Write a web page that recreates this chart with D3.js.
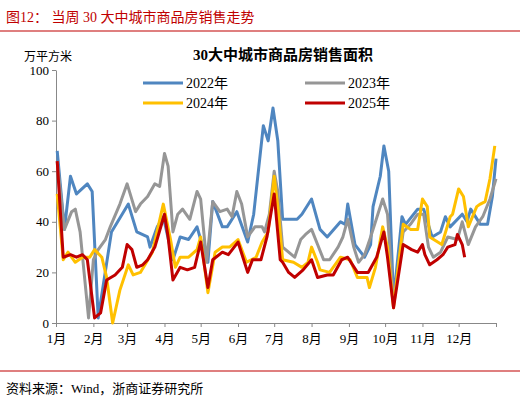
<!DOCTYPE html>
<html><head><meta charset="utf-8">
<script src="https://cdn.jsdelivr.net/npm/d3@7"></script>
<style>body{margin:0;background:#fff}svg{font-family:"Times New Roman","Liberation Serif","Noto Sans CJK SC",serif}</style>
</head><body><svg id="c" width="520" height="403"></svg>
<script>
// [day of year, 万平方米]
const s2022 = [[1,68],[7,37],[12,58],[17,51],[26,55],[30,52],[35,2],[46,36],[60,47],[67,36],[76,34],[78,30],[84,38],[89,42],[97,25],[103,34],[110,33],[117,38],[120,33],[126,24],[130,48],[138,38],[142,38],[150,44],[159,32],[164,43],[172,78],[176,72],[180,85],[184,72],[188,41],[200,41],[204,43],[212,49],[219,37],[225,34],[236,40],[240,39],[242,47],[248,31],[256,26],[261,31],[263,46],[269,58],[272,70],[276,60],[280,9],[287,42],[290,39],[300,45],[305,45],[312,34],[319,36],[323,42],[327,38],[337,43],[341,40],[344,45],[352,39],[358,39],[362,50],[365,65]];
const s2023 = [[1,64],[7,37],[13,44],[16,45],[20,36],[27,2],[31,25],[35,29],[41,33],[45,38],[53,47],[59,55],[66,44],[70,47],[76,50],[82,55],[86,54],[90,67],[93,62],[97,36],[101,43],[105,45],[111,41],[117,52],[120,49],[125,24],[130,48],[136,44],[142,45],[146,42],[150,52],[154,47],[159,34],[165,38],[171,38],[173,36],[177,43],[181,60],[184,52],[188,30],[198,26],[203,33],[207,35],[212,37],[217,31],[222,25],[227,25],[234,30],[238,34],[242,41],[247,30],[251,24],[256,27],[261,34],[271,49],[275,43],[280,8],[288,36],[294,39],[300,43],[305,43],[309,30],[313,26],[319,28],[325,34],[333,33],[337,40],[342,31],[348,38],[354,42],[360,49],[365,57]];
const s2024 = [[1,51],[6,25],[10,28],[16,24],[22,26],[28,26],[32,29],[38,26],[42,18],[47,0],[53,13],[60,23],[64,19],[70,20],[80,28],[89,47],[95,33],[99,22],[103,26],[110,26],[117,29],[120,34],[126,12],[132,28],[138,30],[144,30],[151,33],[158,24],[166,26],[171,32],[176,36],[181,58],[184,46],[188,25],[197,24],[204,22],[209,24],[212,30],[217,24],[219,21],[227,20],[236,26],[244,25],[250,18],[258,18],[260,14],[265,22],[271,38],[275,30],[280,6],[288,39],[294,37],[300,37],[304,49],[308,46],[310,34],[320,31],[327,42],[329,43],[334,53],[338,50],[342,38],[349,46],[352,47],[356,48],[360,57],[364,70]];
const s2025 = [[1,64],[6,26],[12,27],[17,26],[22,27],[26,25],[32,2],[37,4],[42,17],[49,19],[55,22],[59,31],[63,29],[67,22],[72,23],[76,25],[82,30],[90,43],[93,34],[97,17],[103,22],[109,21],[115,22],[120,32],[126,14],[130,25],[138,28],[143,27],[151,32],[159,20],[163,25],[170,25],[175,34],[181,51],[186,25],[188,24],[193,20],[198,18],[205,21],[212,25],[217,18],[225,19],[230,19],[237,25],[242,26],[250,20],[259,20],[266,26],[272,36],[275,26],[280,6],[288,31],[295,29],[300,28],[304,31],[306,27],[310,23],[316,25],[321,27],[325,30],[331,31],[333,35],[337,31],[339,26]];
const seriesNames = ["2022年","2023年","2024年","2025年"];
const seriesColors = ["#4f86c0","#969696","#ffc000","#c00000"];
const monthLabels = ["1月","2月","3月","4月","5月","6月","7月","8月","9月","10月","11月","12月"];
const monthStarts = [0,31,59,90,120,151,181,212,243,273,304,334];
const yTicks = [0,20,40,60,80,100];

const svg = d3.select("#c");
const red = "#c00000";
svg.append("text").attr("x",6).attr("y",22).attr("fill",red).attr("font-size",14)
  .text("图12：  当周 30 大中城市商品房销售走势");
svg.append("line").attr("x1",0).attr("x2",520).attr("y1",31).attr("y2",31).attr("stroke",red).attr("stroke-width",1.2);
svg.append("line").attr("x1",0).attr("x2",520).attr("y1",371).attr("y2",371).attr("stroke",red).attr("stroke-width",1.2);
svg.append("text").attr("x",6).attr("y",393).attr("font-size",13).text("资料来源：Wind，浙商证券研究所");

const x = d3.scaleLinear().domain([0,365]).range([56,496]);
const y = d3.scaleLinear().domain([0,100]).range([323,70]);

svg.append("text").attr("x",283).attr("y",60).attr("text-anchor","middle").attr("font-size",15).attr("font-weight","bold").text("30大中城市商品房销售面积");
svg.append("text").attr("x",24).attr("y",61).attr("font-size",12).text("万平方米");

const ya = svg.append("g").attr("transform","translate(56,0)")
  .call(d3.axisLeft(y).tickValues(yTicks).tickSize(4).tickSizeOuter(0));
const xa = svg.append("g").attr("transform","translate(0,323)")
  .call(d3.axisBottom(x).tickValues(monthStarts.concat([365])).tickSize(4).tickSizeOuter(0)
    .tickFormat((d,i)=>monthLabels[i]||""));
[ya,xa].forEach(a=>{a.selectAll("path,line").attr("stroke","#888");
  a.selectAll("text").attr("font-size",13).attr("fill","#000").style("font-family","'Times New Roman','Liberation Serif','Noto Sans CJK SC',serif");});
xa.selectAll("text").attr("dy","1.0em");

const line = d3.line().x(d=>x(d[0])).y(d=>y(d[1]));
[s2022,s2023,s2024,s2025].forEach((s,i)=>{
  svg.append("path").datum(s).attr("d",line).attr("fill","none")
    .attr("stroke",seriesColors[i]).attr("stroke-width",3).attr("stroke-linejoin","round");
});

seriesNames.forEach((n,i)=>{
  const lx = i%2===0 ? 143 : 305, ly = i<2 ? 83 : 103;
  svg.append("line").attr("x1",lx).attr("x2",lx+40).attr("y1",ly).attr("y2",ly).attr("stroke",seriesColors[i]).attr("stroke-width",3);
  svg.append("text").attr("x",lx+43).attr("y",ly+5).attr("font-size",14).text(n);
});
</script></body></html>
